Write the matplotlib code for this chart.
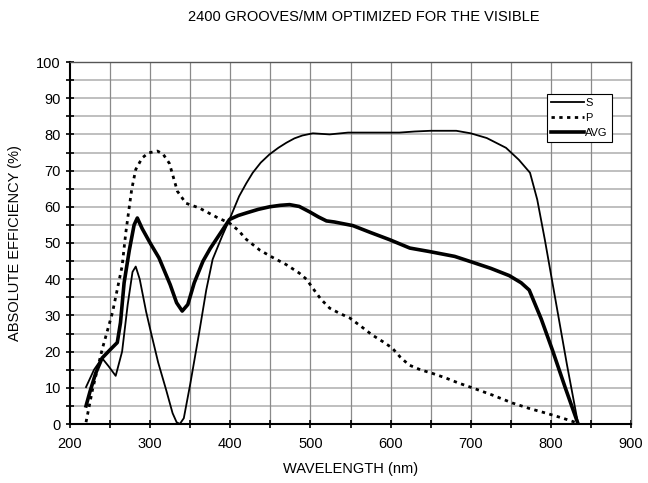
import numpy as np
import matplotlib
matplotlib.use('Agg')
import matplotlib.pyplot as plt

plt.rcParams['font.family'] = ['Liberation Sans', 'DejaVu Sans']

# S polarization
s_wl = [220, 230, 240, 248, 257, 265, 272, 278, 282, 287, 295, 301, 310, 320, 328, 333,
        337, 342, 350, 361, 370, 378, 390, 399, 411, 420, 428, 438, 449, 460, 470, 480,
        490, 503, 524, 547, 580, 611, 630, 650, 682, 700, 720, 744, 760, 774, 783, 792.5,
        810, 820, 834]
s_eff = [10.2, 15, 18.2, 16, 13.3, 20, 33, 42, 43.5, 40, 31, 25.3, 17, 9.4, 3, 0.5,
         0, 1.6, 11, 25, 37, 45.5, 52, 56.5, 62.9, 66.5, 69.4, 72.2, 74.5, 76.3, 77.7, 78.9,
         79.7, 80.3, 80, 80.5, 80.5, 80.5, 80.8, 81, 81, 80.3, 79, 76.3, 73, 69.4, 62, 50.9,
         29, 16.5, 0]

# P polarization
p_wl = [220, 228, 240, 253, 265, 269.6, 274, 277, 282, 290, 298, 309, 316, 324, 334, 344.6,
        352, 361, 373, 384, 399, 410, 420, 437, 453, 470, 486, 495, 503, 513, 524,
        537, 549, 563, 577, 590, 602, 612, 623, 637, 652, 669, 685, 702, 727, 752, 773,
        794, 815, 830, 834]
p_eff = [0.5, 9.4, 20.5, 30.8, 43.6, 52.8, 60, 64.8, 70.3, 73.5, 74.9, 75.4, 74.6, 72, 64.3, 61,
         60.4, 59.7, 58.3, 57, 55.5, 53.5, 51, 48, 46, 44, 41.7, 40, 37.5, 34.5, 32,
         30.5, 29.3, 27, 24.6, 22.8, 21, 18.5, 16.3, 15, 14, 12.7, 11.3, 10, 8, 5.8, 4.3,
         3, 1.6, 0.5, 0]

# average
a_wl = [220, 225, 232, 240, 250, 259, 263, 267.5, 274, 280, 284, 290, 300, 311, 325, 333,
        340, 347, 355, 366, 375, 387, 399, 410, 420, 435, 449, 462, 474, 486, 499, 510,
        520, 530, 553, 575, 599, 624, 647, 680, 702, 725, 748, 763, 773, 788, 802, 818, 834]
a_eff = [5, 9, 14, 18.2, 20.5, 22.5, 28, 39, 48, 55, 56.9, 54, 50, 45.9, 38.5, 33.5,
         31.2, 33, 39, 45, 48.5, 52.5, 56.5, 57.6, 58.3, 59.3, 60, 60.4, 60.6, 60.1, 58.6, 57.2,
         56.1, 55.8, 54.8, 52.9, 50.9, 48.6, 47.7, 46.3, 44.7, 43, 41, 39, 37, 29, 20.4, 10, 0]

fig = plt.figure(figsize=(6.48, 4.83), dpi=100)
ax = fig.add_axes([70/648, 1-424/483, 561/648, 362/483])

ax.set_xlim(200, 900)
ax.set_ylim(0, 100)

# grid: light horizontals every 5, darker verticals every 50
for y in np.arange(5, 100, 5):
    ax.axhline(y, color='#b4b4b4', lw=1.2, zorder=0)
for x in np.arange(250, 900, 50):
    ax.axvline(x, color='#8a8a8a', lw=0.9, zorder=0)

ax.plot(s_wl, s_eff, color='black', lw=1.3, label='S', zorder=3)
ax.plot(p_wl, p_eff, color='black', lw=2.0, linestyle=(0, (1.2, 1.6)), label='P', zorder=3)
ax.plot(a_wl, a_eff, color='black', lw=2.6, label='AVG', zorder=3)

ax.set_xticks(np.arange(200, 901, 100))
ax.set_xticks(np.arange(200, 901, 50), minor=True)
ax.set_yticks(np.arange(0, 101, 10))
ax.set_yticks(np.arange(0, 101, 5), minor=True)
ax.tick_params(which='both', direction='inout', length=6, width=1.2, labelsize=10.5)
ax.tick_params(axis='x', pad=6)

for side in ['left', 'bottom']:
    ax.spines[side].set_linewidth(1.5)
for side in ['top', 'right']:
    ax.spines[side].set_linewidth(1.0)
    ax.spines[side].set_color('#555555')

ax.set_xlabel('WAVELENGTH (nm)', fontsize=10.5, labelpad=8)
ax.set_ylabel('ABSOLUTE EFFICIENCY (%)', fontsize=10.5, labelpad=10)

fig.text(364/648, 1-17/483, '2400 GROOVES/MM OPTIMIZED FOR THE VISIBLE',
         ha='center', va='center', fontsize=10.5)

leg = ax.legend(loc='upper left', bbox_to_anchor=(0.85, 0.912), fontsize=8,
                handlelength=3.0, handletextpad=0.1, labelspacing=0.45,
                borderpad=0.35, borderaxespad=0, fancybox=False, framealpha=1)
leg.get_frame().set_edgecolor('black')
leg.get_frame().set_linewidth(0.8)

fig.savefig('out.png', dpi=100)
